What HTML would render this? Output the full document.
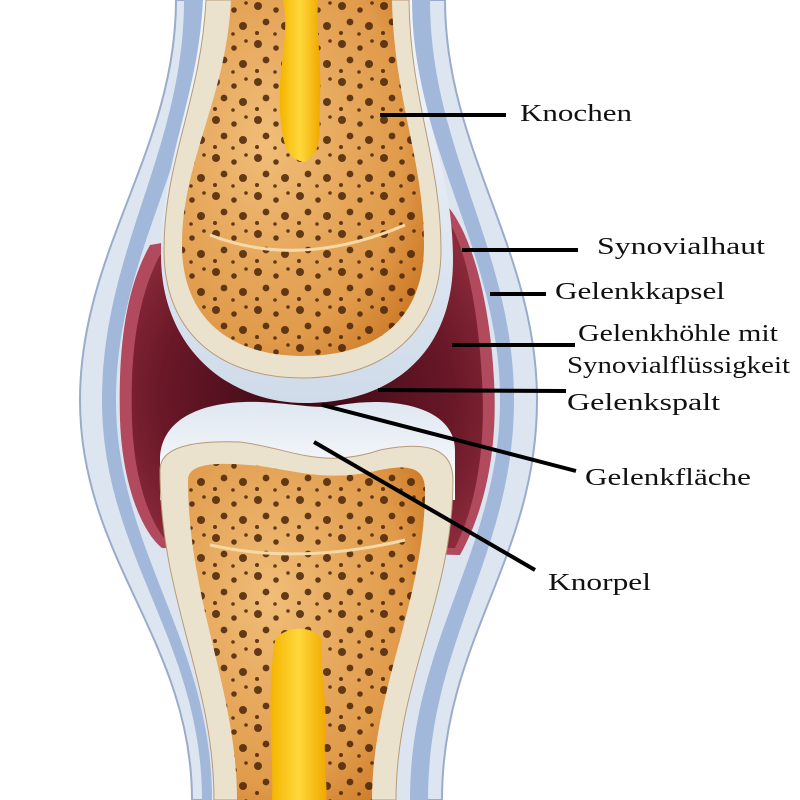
<!DOCTYPE html>
<html><head><meta charset="utf-8"><style>
html,body{margin:0;padding:0;background:#fff;width:800px;height:800px;overflow:hidden}
text{font-family:"Liberation Serif",serif;font-size:24px;fill:#111}
</style></head><body>
<svg width="800" height="800" viewBox="0 0 800 800" xmlns="http://www.w3.org/2000/svg">
<defs>
<pattern id="pores" width="42" height="38" patternUnits="userSpaceOnUse">
<circle cx="6" cy="6" r="4" fill="#4a2408"/>
<circle cx="24" cy="10" r="2.8" fill="#4a2408"/>
<circle cx="36" cy="3" r="1.8" fill="#4a2408"/>
<circle cx="14" cy="22" r="3.4" fill="#4a2408"/>
<circle cx="33" cy="26" r="4" fill="#4a2408"/>
<circle cx="5" cy="33" r="2" fill="#4a2408"/>
<circle cx="23" cy="34" r="1.8" fill="#4a2408"/>
</pattern>
<radialGradient id="org" cx="0.35" cy="0.4" r="0.8">
<stop offset="0" stop-color="#f0bd78"/><stop offset="0.7" stop-color="#e09a4a"/><stop offset="1" stop-color="#c8731f"/>
</radialGradient>
<radialGradient id="cav" cx="0.5" cy="0.55" r="0.6">
<stop offset="0" stop-color="#3a0814"/><stop offset="0.7" stop-color="#6a1828"/><stop offset="1" stop-color="#8a2a3a"/>
</radialGradient>
<linearGradient id="cart" x1="0" y1="0" x2="0" y2="1">
<stop offset="0" stop-color="#f4f7fb"/><stop offset="1" stop-color="#cfdbea"/>
</linearGradient>
<linearGradient id="cart2" x1="0" y1="0" x2="0" y2="1">
<stop offset="0" stop-color="#dfe7f1"/><stop offset="1" stop-color="#ffffff"/>
</linearGradient>
<linearGradient id="yel" x1="0" y1="0" x2="1" y2="0">
<stop offset="0" stop-color="#f4b400"/><stop offset="0.5" stop-color="#ffd83a"/><stop offset="1" stop-color="#f0a800"/>
</linearGradient>
</defs>
<path d="M176,0 C176,150 80,250 80,400 C80,560 192,640 192,800 L442,800 C442,640 537,560 537,400 C537,250 445,150 445,0 Z" fill="#dde5f1" stroke="#9aaccc" stroke-width="2"/>
<path d="M184,0 C184,150 102,250 102,400 C102,555 202,640 202,800 L428,800 C428,640 514,555 514,400 C514,250 430,150 430,0 Z" fill="#a2b8da"/>
<path d="M204,0 C204,150 116,250 116,400 C116,550 212,640 212,800 L410,800 C410,640 500,550 500,400 C500,250 412,150 412,0 Z" fill="#dce4f0"/>
<path d="M150,245 C125,290 118,350 120,420 C122,480 140,530 162,548 L460,555 C485,510 498,450 494,380 C490,300 470,220 437,196 Z" fill="#b04a5c"/>
<path d="M160,255 C136,300 130,360 132,420 C134,480 150,525 170,545 L455,548 C476,505 486,450 482,380 C478,300 462,230 440,210 Z" fill="url(#cav)"/>
<path d="M203,0 C198,100 161,160 161,255 C161,350 230,403 305,403 C395,403 453,350 453,260 C453,160 412,100 412,0 Z" fill="url(#cart)"/>
<path d="M206,0 C201,100 164,160 164,250 C164,340 228,378 302,378 C386,378 441,330 441,250 C441,160 410,100 409,0 Z" fill="#ebe2cd" stroke="#b89a78" stroke-width="1"/>
<path d="M231,0 C226,100 182,160 182,245 C182,318 230,355 300,356 C378,357 424,318 424,245 C424,160 394,100 392,0 Z" fill="url(#org)"/>
<path d="M231,0 C226,100 182,160 182,245 C182,318 230,355 300,356 C378,357 424,318 424,245 C424,160 394,100 392,0 Z" fill="url(#pores)" opacity="0.85"/>
<path d="M210,235 Q300,270 405,225" fill="none" stroke="#f6d9a8" stroke-width="3"/>
<path d="M283,0 L318,0 C316,40 322,60 320,100 C318,130 325,150 305,162 C285,160 282,140 280,110 C278,60 290,40 283,0 Z" fill="url(#yel)"/>
<path d="M160,460 C160,420 200,400 260,402 C300,404 320,410 340,405 C400,395 455,410 455,450 L455,500 L160,500 Z" fill="url(#cart2)"/>
<path d="M160,470 C160,448 190,440 240,442 C290,448 320,470 380,450 C430,440 453,450 453,480 C453,600 396,680 396,800 L214,800 C214,680 160,600 160,470 Z" fill="#ebe2cd" stroke="#b89a78" stroke-width="1"/>
<path d="M188,480 C188,462 220,462 260,466 C300,472 330,482 380,470 C410,464 425,468 425,490 C425,600 372,690 372,800 L237,800 C237,690 188,600 188,480 Z" fill="url(#org)"/>
<path d="M188,480 C188,462 220,462 260,466 C300,472 330,482 380,470 C410,464 425,468 425,490 C425,600 372,690 372,800 L237,800 C237,690 188,600 188,480 Z" fill="url(#pores)" opacity="0.85"/>
<path d="M210,545 Q300,565 405,540" fill="none" stroke="#f6d9a8" stroke-width="3"/>
<path d="M275,640 C285,625 315,625 322,640 C320,680 328,700 325,740 C324,770 328,790 326,800 L272,800 C274,760 266,700 275,640 Z" fill="url(#yel)"/>
<g stroke="#000" stroke-width="4" fill="none">
<line x1="380" y1="115" x2="506" y2="115"/>
<line x1="462" y1="250" x2="578" y2="250"/>
<line x1="490" y1="294" x2="546" y2="294"/>
<line x1="452" y1="345" x2="575" y2="345"/>
<line x1="378" y1="390" x2="566" y2="391"/>
<line x1="322" y1="405" x2="576" y2="471"/>
<line x1="314" y1="442" x2="535" y2="570"/>
</g>
<g font-family="Liberation Serif, serif" font-size="24">
<text x="520" y="121" textLength="112" lengthAdjust="spacingAndGlyphs">Knochen</text>
<text x="597" y="254" textLength="168" lengthAdjust="spacingAndGlyphs">Synovialhaut</text>
<text x="555" y="299" textLength="170" lengthAdjust="spacingAndGlyphs">Gelenkkapsel</text>
<text x="578" y="341" textLength="200" lengthAdjust="spacingAndGlyphs">Gelenkhöhle mit</text>
<text x="567" y="373" textLength="223" lengthAdjust="spacingAndGlyphs">Synovialflüssigkeit</text>
<text x="567" y="410" textLength="153" lengthAdjust="spacingAndGlyphs">Gelenkspalt</text>
<text x="585" y="485" textLength="166" lengthAdjust="spacingAndGlyphs">Gelenkfläche</text>
<text x="548" y="590" textLength="103" lengthAdjust="spacingAndGlyphs">Knorpel</text>
</g>
</svg>
</body></html>
